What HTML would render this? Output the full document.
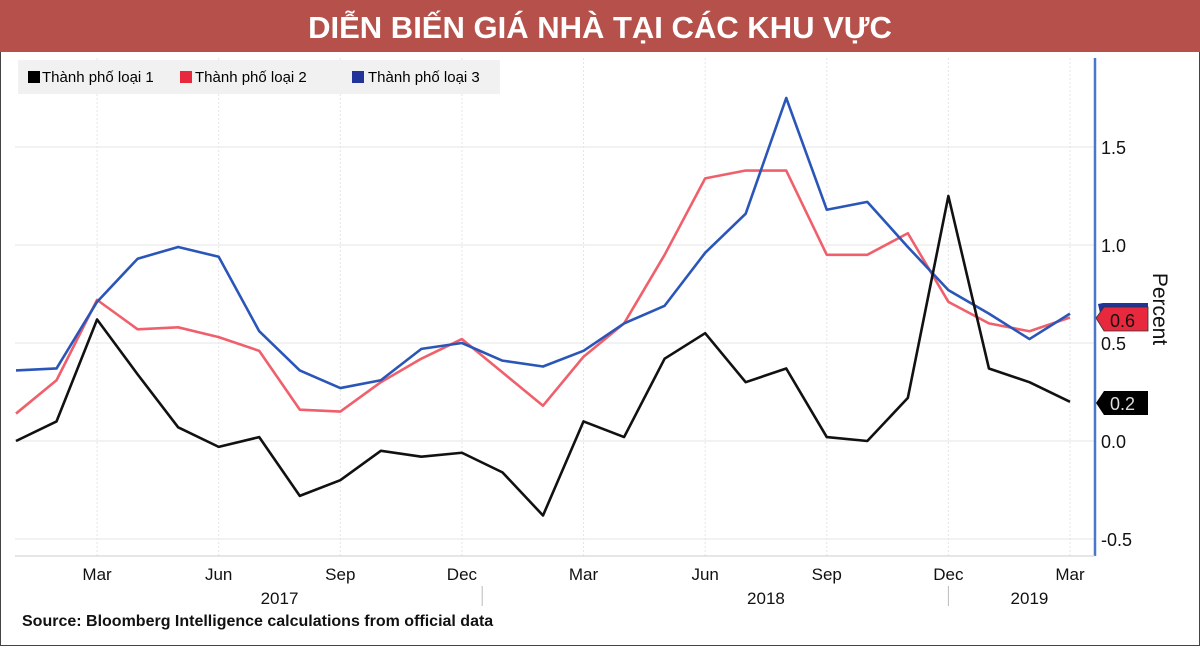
<!DOCTYPE html>
<html><head><meta charset="utf-8"><style>
body{margin:0;width:1200px;height:646px;overflow:hidden;background:#fff;font-family:"Liberation Sans",sans-serif}
</style></head><body>
<svg width="1200" height="646" xmlns="http://www.w3.org/2000/svg">
<rect x="0" y="0" width="1200" height="646" fill="#fff" stroke="#444" stroke-width="2"/>
<rect x="0" y="0" width="1200" height="52" fill="#b5514a"/>
<text x="600" y="38" text-anchor="middle" fill="#fff" font-size="31" font-weight="bold" font-family="'Liberation Sans',sans-serif">DIỄN BIẾN GIÁ NHÀ TẠI CÁC KHU VỰC</text>
<g id="grid"></g>
<line x1="1095" y1="58" x2="1095" y2="556" stroke="#4a78c8" stroke-width="2.5"/>
<g id="yt"></g>
<g id="xt"></g>
<g id="series"></g>
<text transform="translate(1153,309) rotate(90)" text-anchor="middle" font-size="21" fill="#111">Percent</text>
<g>
<rect x="18" y="60" width="482" height="34" fill="#f1f1f1"/>
<g><rect x="28" y="71" width="12" height="12" fill="#000"/><text x="42" y="82" font-size="15">Thành phố loại 1</text></g>
<g><rect x="180" y="71" width="12" height="12" fill="#e8283c"/><text x="195" y="82" font-size="15">Thành phố loại 2</text></g>
<g><rect x="352" y="71" width="12" height="12" fill="#22339a"/><text x="368" y="82" font-size="15">Thành phố loại 3</text></g>
</g>
<g>
<polygon points="1098,304 1103,303 1148,303 1148,327 1103,327" fill="#22339a"/>
<polygon points="1096,318 1104,307 1148,307 1148,331 1104,331" fill="#e8283c" stroke="#333" stroke-width="0.8"/>
<text x="1110" y="327" font-size="18" fill="#111">0.6</text>
</g>
<g>
<polygon points="1096,403 1104,391 1148,391 1148,415 1104,415" fill="#000"/>
<text x="1110" y="410" font-size="18" fill="#ddd">0.2</text>
</g>
<text x="22" y="626" font-size="16" font-weight="bold" fill="#111">Source: Bloomberg Intelligence calculations from official data</text>
</svg>
<script>
const months=["Jan17","Feb17","Mar17","Apr17","May17","Jun17","Jul17","Aug17","Sep17","Oct17","Nov17","Dec17","Jan18","Feb18","Mar18","Apr18","May18","Jun18","Jul18","Aug18","Sep18","Oct18","Nov18","Dec18","Jan19","Feb19","Mar19"];
const city1=[0.0,0.1,0.62,0.34,0.07,-0.03,0.02,-0.28,-0.2,-0.05,-0.08,-0.06,-0.16,-0.38,0.1,0.02,0.42,0.55,0.3,0.37,0.02,0.0,0.22,1.25,0.37,0.3,0.2];
const city2=[0.14,0.31,0.72,0.57,0.58,0.53,0.46,0.16,0.15,0.3,0.42,0.52,0.35,0.18,0.43,0.6,0.95,1.34,1.38,1.38,0.95,0.95,1.06,0.71,0.6,0.56,0.63];
const city3=[0.36,0.37,0.71,0.93,0.99,0.94,0.56,0.36,0.27,0.31,0.47,0.5,0.41,0.38,0.46,0.6,0.69,0.96,1.16,1.75,1.18,1.22,0.99,0.77,0.65,0.52,0.65];
const yTicks=[-0.5,0,0.5,1.0,1.5];
const yTickLabels=["-0.5","0.0","0.5","1.0","1.5"];
const xTickIdx=[2,5,8,11,14,17,20,23,26];
const xTickLabels=["Mar","Jun","Sep","Dec","Mar","Jun","Sep","Dec","Mar"];
const yearLabels=["2017","2018","2019"];
const yearIdx=[6.5,18.5,25];
const NS="http://www.w3.org/2000/svg";
const x=i=>16+i*(1070-16)/26;
const y=v=>441-v*196;
function mk(tag,attrs,parent,txt){const e=document.createElementNS(NS,tag);for(const k in attrs)e.setAttribute(k,attrs[k]);if(txt!=null)e.textContent=txt;parent.appendChild(e);return e;}
const grid=document.getElementById('grid'),yt=document.getElementById('yt'),xt=document.getElementById('xt'),sg=document.getElementById('series');
yTicks.forEach((v,i)=>{
 const g=mk('line',{x1:15,x2:1095,y1:y(v),y2:y(v),stroke:'#e6e6e6','stroke-width':1},grid);
 
 
 const t=mk('text',{x:1101,y:y(v)+7,'font-size':18,fill:'#111'},yt,yTickLabels[i]);
 
 
});
xTickIdx.forEach((idx,i)=>{
 const g=mk('line',{x1:x(idx),x2:x(idx),y1:58,y2:556,stroke:'#e6e6e6','stroke-width':1,'stroke-dasharray':'2,2'},grid);
 
 
 const t=mk('text',{x:x(idx),y:580,'text-anchor':'middle','font-size':17,fill:'#111'},xt,xTickLabels[i]);
 
 
});
yearLabels.forEach((l,i)=>{
 const t=mk('text',{x:x(yearIdx[i]),y:604,'text-anchor':'middle','font-size':17,fill:'#111'},xt,l);
 
 
});
[x(11.5),x(23)].forEach(px=>{
 const d=mk('line',{x1:px,x2:px,y1:586,y2:606,stroke:'#bbb'},xt);
 
 
});
const base=mk('line',{x1:15,x2:1095,y1:556,y2:556,stroke:'#ccc'},xt);


[[city2,'#f0606c','series-city-2'],[city3,'#2a56b8','series-city-3'],[city1,'#111','series-city-1']].forEach(([d,c,n])=>{
 const p=mk('polyline',{points:d.map((v,i)=>x(i)+','+y(v)).join(' '),fill:'none',stroke:c,'stroke-width':2.6,'stroke-linejoin':'round'},sg);
 
 
});
</script>
</body></html>
